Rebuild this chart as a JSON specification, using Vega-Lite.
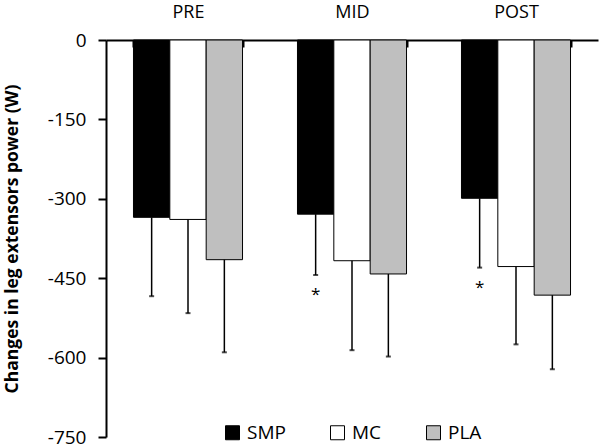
{
  "$schema": "https://vega.github.io/schema/vega-lite/v6.json",
  "autosize": {"type": "none"},
  "width": 492,
  "height": 397,
  "padding": {"left": 106, "top": 40, "right": 2, "bottom": 11},
  "background": "white",
  "config": {
    "view": {"stroke": null},
    "font": "Open Sans",
    "axis": {"labelColor": "black", "titleColor": "black", "domainColor": "black", "tickColor": "black", "grid": false}
  },
  "data": {
    "values": [
      {"phase": "PRE", "group": "SMP", "mean": -335, "low": -484, "sig": ""},
      {"phase": "PRE", "group": "MC", "mean": -339, "low": -516, "sig": ""},
      {"phase": "PRE", "group": "PLA", "mean": -415, "low": -590, "sig": ""},
      {"phase": "MID", "group": "SMP", "mean": -329, "low": -444, "sig": "*"},
      {"phase": "MID", "group": "MC", "mean": -417, "low": -586, "sig": ""},
      {"phase": "MID", "group": "PLA", "mean": -442, "low": -598, "sig": ""},
      {"phase": "POST", "group": "SMP", "mean": -299, "low": -430, "sig": "*"},
      {"phase": "POST", "group": "MC", "mean": -428, "low": -575, "sig": ""},
      {"phase": "POST", "group": "PLA", "mean": -482, "low": -622, "sig": ""}
    ]
  },
  "encoding": {
    "x": {
      "field": "phase", "type": "nominal", "sort": ["PRE", "MID", "POST"],
      "scale": {"paddingInner": 0.335, "paddingOuter": 0.1675},
      "axis": {
        "orient": "top", "title": null, "labelAngle": 0,
        "labelFontSize": 18, "labelPadding": 26,
        "tickBand": "extent", "tickSize": -7, "tickWidth": 2,
        "domainWidth": 2
      }
    },
    "xOffset": {"field": "group", "type": "nominal", "sort": ["SMP", "MC", "PLA"]}
  },
  "layer": [
    {
      "mark": {"type": "bar", "stroke": "black", "strokeWidth": 1},
      "encoding": {
        "y": {
          "field": "mean", "type": "quantitative",
          "scale": {"domain": [-750, 0], "nice": false},
          "axis": {
            "title": "Changes in leg extensors power (W)",
            "titleFontSize": 17.5, "titleFontWeight": "bold", "titlePadding": 26,
            "values": [0, -150, -300, -450, -600, -750],
            "labelExpr": "replace(datum.label, '−', '-')",
            "labelFontSize": 19, "labelPadding": 12,
            "tickSize": 8, "tickWidth": 2, "domainWidth": 2
          }
        },
        "fill": {
          "field": "group", "type": "nominal", "sort": ["SMP", "MC", "PLA"],
          "scale": {"domain": ["SMP", "MC", "PLA"], "range": ["#000000", "#ffffff", "#bfbfbf"]},
          "legend": {
            "title": null, "orient": "none", "direction": "horizontal",
            "legendX": 117, "legendY": 383, "padding": 0,
            "symbolType": "square", "symbolSize": 196,
            "symbolStrokeColor": "black", "symbolStrokeWidth": 1,
            "labelFontSize": 19, "labelColor": "black", "labelOffset": 5,
            "columnPadding": 42
          }
        }
      }
    },
    {
      "mark": {"type": "rule", "color": "black", "strokeWidth": 1.5},
      "encoding": {
        "y": {"field": "mean", "type": "quantitative"},
        "y2": {"field": "low"}
      }
    },
    {
      "mark": {"type": "tick", "color": "black", "size": 5, "thickness": 2, "orient": "horizontal"},
      "encoding": {
        "y": {"field": "low", "type": "quantitative"}
      }
    },
    {
      "mark": {"type": "text", "fontSize": 17, "baseline": "middle", "dy": 20, "color": "black"},
      "encoding": {
        "y": {"field": "low", "type": "quantitative"},
        "text": {"field": "sig"}
      }
    }
  ]
}
